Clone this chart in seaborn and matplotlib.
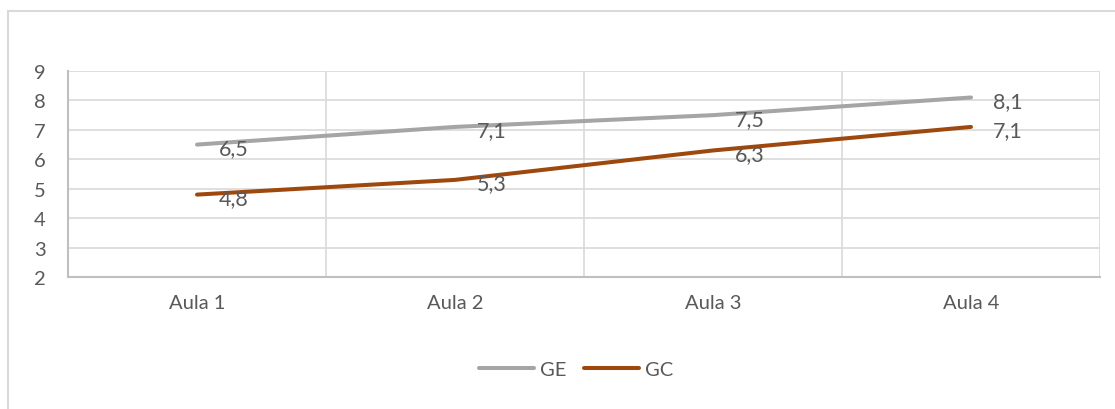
import matplotlib
matplotlib.use("Agg")
import matplotlib.pyplot as plt
import seaborn as sns
import pandas as pd
from matplotlib.patches import Rectangle

categories = ["Aula 1", "Aula 2", "Aula 3", "Aula 4"]
ge_values = [6.5, 7.1, 7.5, 8.1]
gc_values = [4.8, 5.3, 6.3, 7.1]
series_names = ["GE", "GC"]
y_ticks = [2, 3, 4, 5, 6, 7, 8, 9]

colors = {"GE": "#A5A5A5", "GC": "#9E480E"}
text_color = "#595959"

sns.set_theme(style="white")
plt.rcParams["font.family"] = ["Lato", "DejaVu Sans"]

df = pd.DataFrame({
    "Aula": categories * 2,
    "Nota": ge_values + gc_values,
    "Grupo": [series_names[0]] * len(categories) + [series_names[1]] * len(categories),
})

fig = plt.figure(figsize=(11.15, 4.1), dpi=100)
ax = fig.add_axes([68 / 1115, 1 - 278 / 410, (1100 - 68) / 1115, (278 - 72) / 410])

sns.lineplot(data=df, x="Aula", y="Nota", hue="Grupo", palette=colors,
             linewidth=2.9, ax=ax, legend=True, sort=False)

ax.set_xlim(-0.5, len(categories) - 0.5)
ax.set_ylim(min(y_ticks), max(y_ticks))
ax.set_yticks(y_ticks)
ax.set_xticks(range(len(categories)))
ax.set_xticklabels(categories)
ax.set_xticks([i - 0.5 for i in range(len(categories) + 1)], minor=True)
ax.grid(False)
ax.yaxis.grid(True, color="#D9D9D9", linewidth=1.2)
ax.xaxis.grid(True, which="minor", color="#D9D9D9", linewidth=1.2)
ax.set_axisbelow(True)
ax.set_xlabel("")
ax.set_ylabel("")
ax.tick_params(axis="both", which="both", length=0, labelsize=14.5, labelcolor=text_color)
ax.tick_params(axis="y", pad=16)
ax.tick_params(axis="x", pad=12)
for side in ["top", "right"]:
    ax.spines[side].set_visible(False)
for side in ["left", "bottom"]:
    ax.spines[side].set_color("#BFBFBF")
    ax.spines[side].set_linewidth(1.5)

for name, vals in zip(series_names, [ge_values, gc_values]):
    for i, v in enumerate(vals):
        ax.annotate(f"{v:.1f}".replace(".", ","), xy=(i, v), xytext=(16, -2.5),
                    textcoords="offset points", ha="left", va="center",
                    fontsize=15.5, color=text_color)

handles, labels = ax.get_legend_handles_labels()
ax.legend(handles=handles, labels=labels, loc="center", ncol=2,
          bbox_to_anchor=(576 / 1115, 1 - 370 / 410), bbox_transform=fig.transFigure,
          frameon=False, fontsize=14.5, handlelength=2.7, handletextpad=0.3,
          columnspacing=0.9, labelcolor=text_color)

fig.patches.append(Rectangle((8 / 1115, -0.1), 1.2, 1.1 - 12 / 410 + 0.0,
                             transform=fig.transFigure, fill=False,
                             edgecolor="#D9D9D9", linewidth=1.5, zorder=0))

fig.savefig("out.png", dpi=100, facecolor="white")
